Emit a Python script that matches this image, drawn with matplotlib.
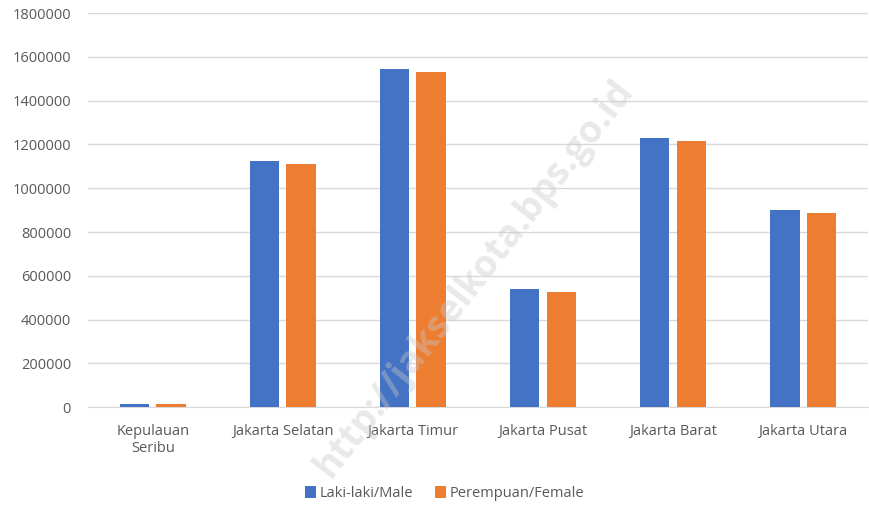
import numpy as np
import matplotlib.pyplot as plt

categories = ['Kepulauan\nSeribu', 'Jakarta Selatan', 'Jakarta Timur',
              'Jakarta Pusat', 'Jakarta Barat', 'Jakarta Utara']
male = [14000, 1125000, 1545000, 540000, 1229000, 900000]
female = [13800, 1110000, 1532000, 527000, 1215000, 885000]
yticks = [0, 200000, 400000, 600000, 800000, 1000000, 1200000, 1400000, 1600000, 1800000]

plt.rcParams['font.family'] = ['Open Sans', 'DejaVu Sans']
text_color = '#595959'

fig = plt.figure(figsize=(8.69, 5.07), dpi=100)
ax = fig.add_axes([0.101, 0.197, 0.898, 0.777])

x = np.arange(len(categories))
w = 0.225
ax.bar(x - 0.14, male, width=w, color='#4472c4', label='Laki-laki/Male', zorder=3)
ax.bar(x + 0.14, female, width=w, color='#ed7d31', label='Perempuan/Female', zorder=3)

ax.set_xlim(-0.5, len(categories) - 0.5)
ax.set_ylim(0, 1800000)
ax.set_yticks(yticks)
ax.set_yticklabels([str(v) for v in yticks])
ax.set_xticks(x)
ax.set_xticklabels(categories)
ax.tick_params(axis='both', length=0, colors=text_color, labelsize=10.5)
ax.tick_params(axis='y', pad=12)
ax.tick_params(axis='x', pad=12)
ax.grid(axis='y', color='#d9d9d9', linewidth=1, zorder=0)
for s in ['top', 'right', 'left']:
    ax.spines[s].set_visible(False)
ax.spines['bottom'].set_color('#d9d9d9')

fig.legend(loc='center', bbox_to_anchor=(0.512, 0.027), ncol=2, frameon=False,
           fontsize=10.5, handlelength=0.7, handleheight=0.9, columnspacing=1.5,
           handletextpad=0.3, labelcolor=text_color)

# watermark
fig.text(0.545, 0.45, 'http://jakselkota.bps.go.id', fontsize=27, fontweight='bold',
         color='#c8c8c8', alpha=0.4, rotation=52, ha='center', va='center', zorder=10)

fig.savefig('out.png', dpi=100)
